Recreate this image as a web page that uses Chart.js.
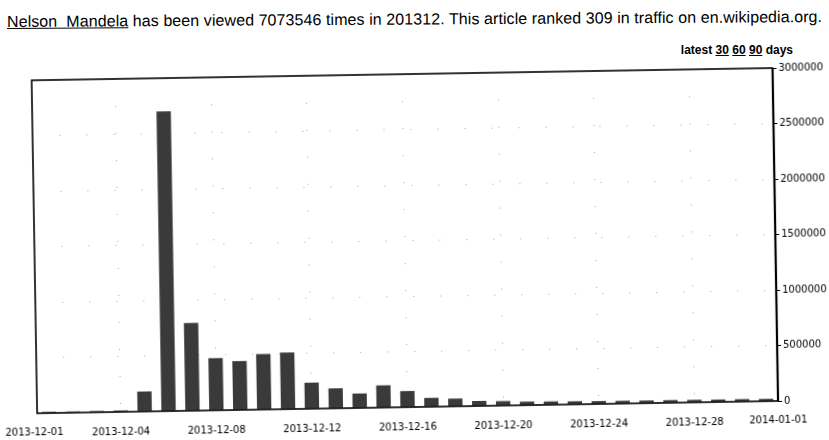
<!DOCTYPE html>
<html>
<head>
<meta charset="utf-8">
<script src="https://cdn.jsdelivr.net/npm/chart.js@4"></script>
<style>
  html, body { margin: 0; padding: 0; background: #fff; overflow: hidden; }
  #page { position: relative; width: 829px; height: 440px; }
  #title {
    position: absolute; left: 7px; top: 14px;
    font: 16px "Liberation Sans", Arial, sans-serif; line-height: 16px;
    color: #000; white-space: pre; letter-spacing: 0.08px;
    transform: rotate(-0.35deg); transform-origin: left center;
  }
  #title u { text-decoration: underline; }
  #latest {
    position: absolute; right: 36px; top: 44px;
    font: bold 12px "Liberation Sans", Arial, sans-serif; line-height: 13px;
    color: #000; white-space: pre;
  }
  #c { position: absolute; left: 0; top: 0; transform: rotate(-0.95deg); }
</style>
</head>
<body>
<div id="page">
  <div id="title"><u>Nelson  Mandela</u> has been viewed 7073546 times in 201312. This article ranked 309 in traffic on en.wikipedia.org.</div>
  <div id="latest">latest <u>30</u> <u>60</u> <u>90</u> days</div>
  <canvas id="c" width="829" height="440"></canvas>
</div>
<script>
// daily views, December 2013
const days = [
  '2013-12-01', '2013-12-02', '2013-12-03', '2013-12-04', '2013-12-05', '2013-12-06',
  '2013-12-07', '2013-12-08', '2013-12-09', '2013-12-10', '2013-12-11', '2013-12-12',
  '2013-12-13', '2013-12-14', '2013-12-15', '2013-12-16', '2013-12-17', '2013-12-18',
  '2013-12-19', '2013-12-20', '2013-12-21', '2013-12-22', '2013-12-23', '2013-12-24',
  '2013-12-25', '2013-12-26', '2013-12-27', '2013-12-28', '2013-12-29', '2013-12-30',
  '2013-12-31'
];
const views = [
  12000, 11000, 12000, 13000, 180000, 2700000,
  790000, 470000, 440000, 500000, 510000, 235000,
  180000, 130000, 200000, 145000, 80000, 70000,
  45000, 40000, 32000, 30000, 28000, 26000,
  25000, 24000, 24000, 23000, 22000, 22000,
  21000
];
const tickDays = ['2013-12-04', '2013-12-08', '2013-12-12', '2013-12-16', '2013-12-20', '2013-12-24', '2013-12-28'];
const edgeLabels = ['2013-12-01', '2014-01-01'];
const yMax = 3000000;
const yStep = 500000;

const tickFont = { family: '"DejaVu Sans", sans-serif', size: 10 };

// box round the plot, plus the two end dates
const frame = {
  id: 'frame',
  afterDraw(chart) {
    const { ctx, chartArea: a } = chart;
    ctx.save();
    ctx.strokeStyle = '#000';
    ctx.lineWidth = 1.6;
    ctx.strokeRect(a.left, a.top, a.right - a.left, a.bottom - a.top);
    ctx.lineWidth = 2.2;
    ctx.beginPath();
    ctx.moveTo(a.right, a.top);
    ctx.lineTo(a.right, a.bottom);
    ctx.stroke();
    ctx.font = '10px "DejaVu Sans", sans-serif';
    ctx.fillStyle = '#000';
    ctx.textAlign = 'center';
    ctx.textBaseline = 'top';
    ctx.fillText(edgeLabels[0], a.left - 3, a.bottom + 14);
    ctx.fillText(edgeLabels[1], a.right, a.bottom + 14);
    ctx.restore();
  }
};

new Chart(document.getElementById('c'), {
  type: 'bar',
  data: {
    labels: days,
    datasets: [{
      label: 'views',
      data: views,
      backgroundColor: '#3a3a3a',
      borderWidth: 0,
      barPercentage: 0.6,
      categoryPercentage: 1
    }]
  },
  options: {
    responsive: false,
    animation: false,
    devicePixelRatio: 1,
    layout: { padding: { left: 34, top: 74, right: 0, bottom: 0 } },
    plugins: { legend: { display: false }, tooltip: { enabled: false } },
    scales: {
      x: {
        offset: true,
        afterFit: (s) => { s.height = 33; },
        border: { display: false, dash: [1, 26] },
        grid: {
          offset: false,
          drawTicks: false,
          color: (c) => tickDays.includes(days[c.index]) ? '#a8a8a8' : 'rgba(0,0,0,0)'
        },
        ticks: {
          autoSkip: false, maxRotation: 0, minRotation: 0,
          padding: 14, font: tickFont, color: '#000',
          callback: (v, i) => tickDays.includes(days[i]) ? days[i] : ''
        }
      },
      y: {
        position: 'right',
        min: 0, max: yMax,
        afterFit: (s) => { s.width = 54; },
        border: { display: false, dash: [1, 26] },
        grid: {
          color: '#a8a8a8',
          tickLength: 4, tickColor: '#000', tickWidth: 1, tickBorderDash: []
        },
        ticks: {
          stepSize: yStep, padding: 2, font: tickFont, color: '#000',
          callback: (v) => String(v)
        }
      }
    }
  },
  plugins: [frame]
});
</script>
</body>
</html>
